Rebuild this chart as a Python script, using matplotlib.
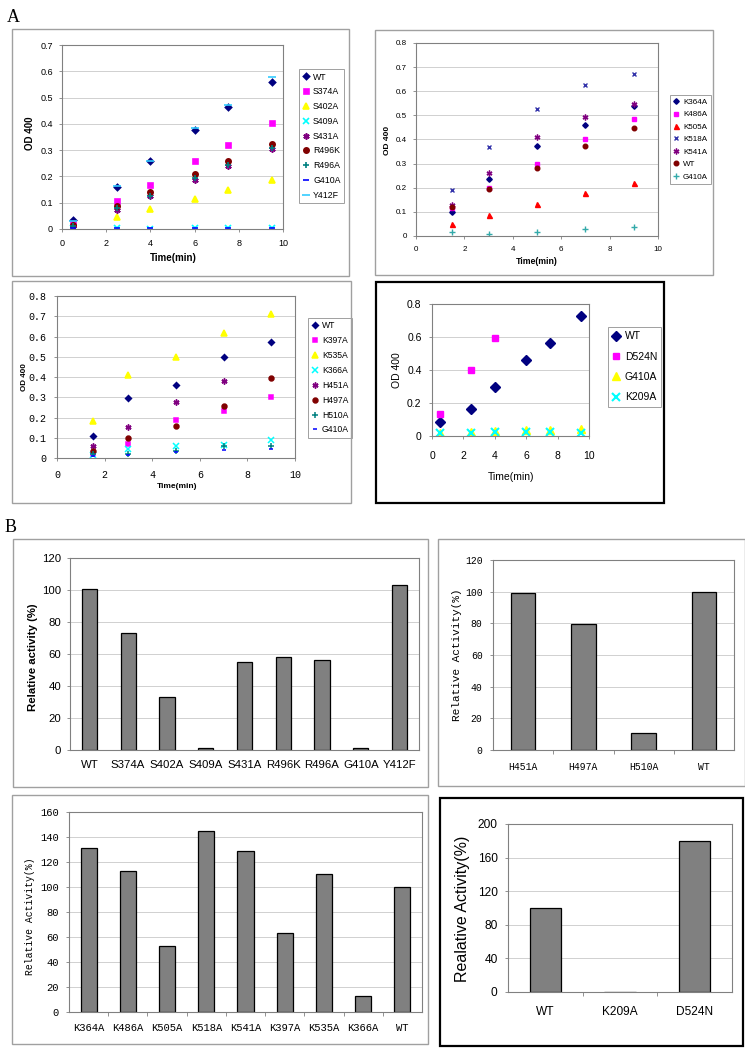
import matplotlib
matplotlib.use("Agg")
import matplotlib.pyplot as plt
import numpy as np
from matplotlib.patches import Rectangle

W, H = 745, 1050
SANS = "Liberation Sans"
SONG = "Liberation Mono"
SERIF = "Liberation Serif"

# ---------------- data: panel A, top left ----------------
t_a1 = [0.5, 2.5, 4, 6, 7.5, 9.5]
a1_wt = [0.033, 0.160, 0.258, 0.378, 0.465, 0.561]
a1_s374a = [0.020, 0.106, 0.169, 0.257, 0.320, 0.403]
a1_s402a = [0.003, 0.047, 0.077, 0.116, 0.147, 0.187]
a1_s409a = [0.002, 0.002, 0.001, 0.002, 0.002, 0.002]
a1_s431a = [0.010, 0.073, 0.124, 0.186, 0.238, 0.303]
a1_r496k = [0.015, 0.088, 0.140, 0.211, 0.259, 0.322]
a1_r496a = [0.012, 0.081, 0.126, 0.193, 0.245, 0.310]
a1_g410a = [0.004, 0.003, 0.002, 0.003, 0.003, 0.005]
a1_y412f = [0.030, 0.162, 0.260, 0.383, 0.470, 0.579]
a1_labels = ["WT", "S374A", "S402A", "S409A", "S431A", "R496K", "R496A", "G410A", "Y412F"]

# ---------------- data: panel A, top right ----------------
t_a2 = [1.5, 3, 5, 7, 9]
a2_k364a = [0.101, 0.236, 0.372, 0.461, 0.537]
a2_k486a = [0.118, 0.201, 0.298, 0.400, 0.484]
a2_k505a = [0.048, 0.086, 0.131, 0.179, 0.218]
a2_k518a = [0.192, 0.370, 0.526, 0.625, 0.671]
a2_k541a = [0.127, 0.262, 0.412, 0.494, 0.549]
a2_wt = [0.119, 0.196, 0.281, 0.372, 0.447]
a2_g410a = [0.017, 0.010, 0.017, 0.028, 0.039]
a2_labels = ["K364A", "K486A", "K505A", "K518A", "K541A", "WT", "G410A"]

# ---------------- data: panel A, middle left ----------------
t_a3 = [1.5, 3, 5, 7, 9]
a3_wt = [0.110, 0.294, 0.361, 0.501, 0.575]
a3_k397a = [0.020, 0.071, 0.190, 0.230, 0.299]
a3_k535a = [0.184, 0.410, 0.501, 0.616, 0.711]
a3_k366a = [0.016, 0.044, 0.057, 0.064, 0.090]
a3_h451a = [0.057, 0.154, 0.276, 0.379, np.nan]
a3_h497a = [0.033, 0.099, 0.156, 0.258, 0.397]
a3_h510a = [0.021, 0.020, 0.036, 0.057, 0.060]
a3_g410a = [0.011, 0.015, 0.030, 0.038, 0.046]
a3_labels = ["WT", "K397A", "K535A", "K366A", "H451A", "H497A", "H510A", "G410A"]

# ---------------- data: panel A, middle right ----------------
t_a4 = [0.5, 2.5, 4, 6, 7.5, 9.5]
t_a4_d524n = [0.5, 2.5, 4]
a4_wt = [0.083, 0.164, 0.296, 0.462, 0.565, 0.725]
a4_d524n = [0.136, 0.397, 0.595]
a4_g410a = [0.020, 0.025, 0.030, 0.035, 0.035, 0.040]
a4_k209a = [0.020, 0.020, 0.025, 0.025, 0.025, 0.020]
a4_labels = ["WT", "D524N", "G410A", "K209A"]

# ---------------- data: panel B bars ----------------
b1_names = ["WT", "S374A", "S402A", "S409A", "S431A", "R496K", "R496A", "G410A", "Y412F"]
b1_vals = [100.5, 73, 33, 1, 55, 58, 56, 1, 103]

b2_names = ["H451A", "H497A", "H510A", "WT"]
b2_vals = [99, 79.5, 11, 100]

b3_names = ["K364A", "K486A", "K505A", "K518A", "K541A", "K397A", "K535A", "K366A", "WT"]
b3_vals = [131.5, 113, 52.5, 145, 129, 63.5, 110.5, 13, 100]

b4_names = ["WT", "K209A", "D524N"]
b4_vals = [100, 0, 180]

# ---------------- styles (Excel-like markers) ----------------
NAVY, MAG, YEL, CYAN = "#000080", "#ff00ff", "#ffff00", "#00ffff"
PURP, DRED, TEAL, BLUE = "#800080", "#800000", "#008080", "#0000ff"
STAR = (6, 2, 0)

fig = plt.figure(figsize=(W / 100, H / 100), dpi=100)


def rect(x0, y0, x1, y1):
    return [x0 / W, 1 - y1 / H, (x1 - x0) / W, (y1 - y0) / H]


def frame(x0, y0, x1, y1, color, lw):
    fig.patches.append(Rectangle((x0 / W, 1 - y1 / H), (x1 - x0) / W, (y1 - y0) / H,
                                 transform=fig.transFigure, fill=False,
                                 edgecolor=color, linewidth=lw))


def excel_axes(ax):
    for s in ax.spines.values():
        s.set_color("#808080")
        s.set_linewidth(0.8)
    ax.yaxis.grid(True, color="#d0d0d0", linewidth=0.7)
    ax.set_axisbelow(True)
    ax.tick_params(length=2.5, width=0.6, color="#808080")


def put_ylabel(ax, text, x, y, **kw):
    ax.set_ylabel(text, va="center", ha="center", **kw)
    ax.yaxis.set_label_coords(x / W, 1 - y / H, transform=fig.transFigure)


def put_xlabel(ax, text, x, y, **kw):
    ax.set_xlabel(text, va="center", ha="center", **kw)
    ax.xaxis.set_label_coords(x / W, 1 - y / H, transform=fig.transFigure)


def put_legend(ax, x0, y0, fs, spacing, family=SANS):
    leg = ax.legend(loc="upper left", bbox_to_anchor=(x0 / W, 1 - y0 / H),
                    bbox_transform=fig.transFigure, borderaxespad=0,
                    fancybox=False, edgecolor="#a0a0a0", framealpha=1,
                    handlelength=0.8, handletextpad=0.4, borderpad=0.4,
                    labelspacing=spacing, prop={"family": family, "size": fs})
    leg.get_frame().set_linewidth(0.7)


def scat(ax, x, y, label, marker, color, ms, mew=1.0):
    ax.plot(x, y, linestyle="none", marker=marker, ms=ms, color=color,
            mec=color, mfc=color, mew=mew, label=label)


# ================= panel A1 =================
frame(12, 29, 349, 276, "#a0a0a0", 1.0)
ax = fig.add_axes(rect(62, 45, 283, 229))
excel_axes(ax)
a1_series = [a1_wt, a1_s374a, a1_s402a, a1_s409a, a1_s431a, a1_r496k, a1_r496a, a1_g410a, a1_y412f]
a1_style = [("D", NAVY, 3.2), ("s", MAG, 3.6), ("^", YEL, 4.2), ("x", CYAN, 4.2),
            (STAR, PURP, 4.5), ("o", DRED, 3.8), ("+", TEAL, 4.5), ("_", BLUE, 4),
            ("_", "#33ccff", 6)]
for vals, lab, (m, c, s) in zip(a1_series, a1_labels, a1_style):
    scat(ax, t_a1, vals, lab, m, c, s, mew=1.2)
ax.set_xlim(0, 10)
ax.set_ylim(0, 0.7)
yt = np.arange(0, 0.71, 0.1)
ax.set_yticks(yt, ["%g" % round(v, 1) for v in yt], fontsize=6.5, family=SANS)
ax.set_xticks(range(0, 11, 2), [str(v) for v in range(0, 11, 2)], fontsize=6.5, family=SANS)
ax.tick_params(axis="y", pad=4)
ax.tick_params(axis="x", pad=5)
put_ylabel(ax, "OD 400", 30, 133, fontsize=7, fontweight="bold", family=SANS)
put_xlabel(ax, "Time(min)", 173, 258, fontsize=7, fontweight="bold", family=SANS)
put_legend(ax, 299, 69, 6.3, 0.66)
fig.text(7 / W, 1 - 18 / H, "A", fontsize=13, family=SERIF, va="center", ha="left")

# ================= panel A2 =================
frame(375, 30, 713, 275, "#a0a0a0", 1.0)
ax = fig.add_axes(rect(416, 43, 658, 236))
excel_axes(ax)
a2_series = [a2_k364a, a2_k486a, a2_k505a, a2_k518a, a2_k541a, a2_wt, a2_g410a]
a2_style = [("D", NAVY, 2.8), ("s", MAG, 3.2), ("^", "#ff0000", 3.6), ("x", "#3333aa", 3),
            (STAR, PURP, 4.2), ("o", DRED, 3.3), ("+", "#33aaaa", 4)]
for vals, lab, (m, c, s) in zip(a2_series, a2_labels, a2_style):
    scat(ax, t_a2, vals, lab, m, c, s, mew=1.0)
ax.set_xlim(0, 10)
ax.set_ylim(0, 0.8)
yt = np.arange(0, 0.81, 0.1)
ax.set_yticks(yt, ["%g" % round(v, 1) for v in yt], fontsize=5.8, family=SANS)
ax.set_xticks(range(0, 11, 2), [str(v) for v in range(0, 11, 2)], fontsize=5.8, family=SANS)
ax.tick_params(axis="y", pad=4)
ax.tick_params(axis="x", pad=5)
put_ylabel(ax, "OD 400", 388, 140, fontsize=6, fontweight="bold", family=SANS)
put_xlabel(ax, "Time(min)", 537, 262, fontsize=6.3, fontweight="bold", family=SANS)
put_legend(ax, 670, 95, 5.8, 0.6)

# ================= panel A3 =================
frame(12, 281, 351, 503, "#a0a0a0", 1.0)
ax = fig.add_axes(rect(57, 296, 295, 458))
excel_axes(ax)
a3_series = [a3_wt, a3_k397a, a3_k535a, a3_k366a, a3_h451a, a3_h497a, a3_h510a, a3_g410a]
a3_style = [("D", NAVY, 3), ("s", MAG, 3.4), ("^", YEL, 4), ("x", CYAN, 4),
            (STAR, PURP, 4.3), ("o", DRED, 3.5), ("+", TEAL, 4.3), ("_", BLUE, 3.5)]
for vals, lab, (m, c, s) in zip(a3_series, a3_labels, a3_style):
    scat(ax, t_a3, vals, lab, m, c, s, mew=1.1)
ax.set_xlim(0, 10)
ax.set_ylim(0, 0.8)
yt = np.arange(0, 0.81, 0.1)
ax.set_yticks(yt, ["%g" % round(v, 1) for v in yt], fontsize=7.2, family=SONG)
ax.set_xticks(range(0, 11, 2), [str(v) for v in range(0, 11, 2)], fontsize=7.2, family=SONG)
ax.tick_params(axis="y", pad=5)
ax.tick_params(axis="x", pad=6)
put_ylabel(ax, "OD 400", 24, 377, fontsize=5.8, fontweight="bold", family=SANS)
put_xlabel(ax, "Time(min)", 177, 487, fontsize=6, fontweight="bold", family=SANS)
put_legend(ax, 308, 318, 6.2, 0.68)

# ================= panel A4 =================
frame(376, 282, 664, 503, "black", 1.6)
ax = fig.add_axes(rect(432, 304, 589, 436))
excel_axes(ax)
scat(ax, t_a4, a4_wt, a4_labels[0], "D", NAVY, 4.6)
scat(ax, t_a4_d524n, a4_d524n, a4_labels[1], "s", MAG, 5)
scat(ax, t_a4, a4_g410a, a4_labels[2], "^", YEL, 6)
scat(ax, t_a4, a4_k209a, a4_labels[3], "x", CYAN, 5.5, mew=1.5)
ax.set_xlim(0, 10)
ax.set_ylim(0, 0.8)
yt = np.arange(0, 0.81, 0.2)
ax.set_yticks(yt, ["%g" % round(v, 1) for v in yt], fontsize=7.5, family=SANS)
ax.set_xticks(range(0, 11, 2), [str(v) for v in range(0, 11, 2)], fontsize=7.5, family=SANS)
ax.tick_params(axis="y", pad=5)
ax.tick_params(axis="x", pad=8)
put_ylabel(ax, "OD 400", 397, 370, fontsize=7.5, family=SANS)
put_xlabel(ax, "Time(min)", 511, 477, fontsize=7.5, family=SANS)
put_legend(ax, 608, 327, 7.5, 1.0)


# ================= panel B bars =================
def bar_panel(box_px, ax_px, names, vals, ymax, ystep, width, fs, family,
              pad_x, pad_y, ylab, ylab_xy, ylab_kw, edge="#a0a0a0", elw=1.0, bticks=True):
    frame(*box_px, edge, elw)
    ax = fig.add_axes(rect(*ax_px))
    excel_axes(ax)
    x = np.arange(len(names))
    ax.bar(x, vals, width=width, color="#808080", edgecolor="black", linewidth=0.9)
    ax.set_xlim(-0.5, len(names) - 0.5)
    ax.set_ylim(0, ymax)
    yt = np.arange(0, ymax + 1, ystep)
    ax.set_yticks(yt, [str(int(v)) for v in yt], fontsize=fs, family=family)
    ax.set_xticks(x, names, fontsize=fs, family=family)
    ax.tick_params(axis="x", length=0, pad=pad_x)
    ax.tick_params(axis="y", pad=pad_y)
    if bticks:
        ax.set_xticks(np.arange(0.5, len(names) - 0.5), minor=True)
        ax.tick_params(axis="x", which="minor", length=3, width=0.6, color="#808080")
    put_ylabel(ax, ylab, *ylab_xy, **ylab_kw)
    return ax


bar_panel((13, 539, 428, 787), (70, 558, 419, 750), b1_names, b1_vals, 120, 20, 0.39,
          8.2, SANS, 7, 4, "Relative activity (%)", (33, 657),
          dict(fontsize=8.2, fontweight="bold", family=SANS), bticks=False)
fig.text(5 / W, 1 - 528 / H, "B", fontsize=13, family=SERIF, va="center", ha="left")

bar_panel((438, 539, 745, 786), (493, 560, 734, 750), b2_names, b2_vals, 120, 20, 0.41,
          7, SONG, 9, 5, "Relative Activity(%)", (457, 655),
          dict(fontsize=8, family=SONG))

bar_panel((12, 795, 428, 1044), (69, 812, 422, 1012), b3_names, b3_vals, 160, 20, 0.41,
          7.6, SONG, 8, 5, "Relative Activity(%)", (30, 916),
          dict(fontsize=7, family=SONG))

bar_panel((440, 798, 743, 1046), (508, 824, 732, 992), b4_names, b4_vals, 200, 40, 0.42,
          8.6, SANS, 10, 5, "Realative Activity(%)", (463, 909),
          dict(fontsize=11.5, family=SANS), edge="black", elw=1.6)

fig.savefig("out.png", dpi=100)
